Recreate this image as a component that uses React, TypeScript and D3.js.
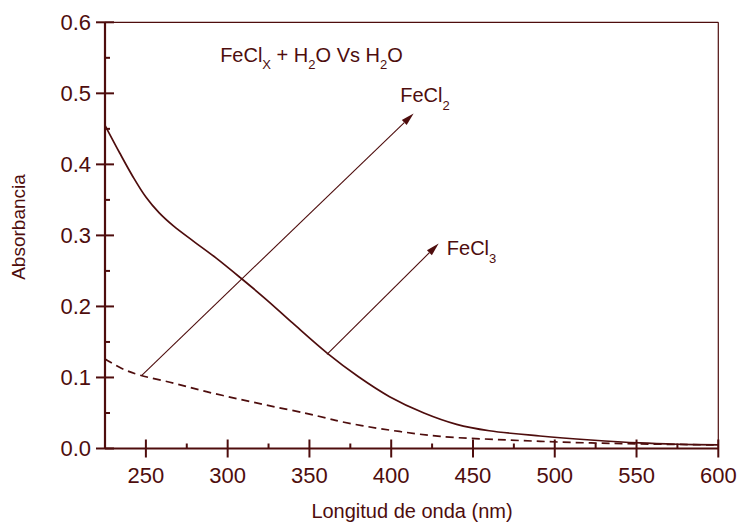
import React from "react";
import * as d3 from "d3";

const wavelengthsSolid = [225, 234, 242, 250, 258, 267, 279, 293, 308, 324, 340, 361, 380, 399, 420, 440, 460, 491, 522, 552, 575, 600];
const absSolid = [0.455, 0.416, 0.383, 0.354, 0.332, 0.313, 0.292, 0.268, 0.240, 0.209, 0.176, 0.134, 0.101, 0.073, 0.050, 0.034, 0.025, 0.0176, 0.012, 0.0078, 0.006, 0.005];

const wavelengthsDashed = [225, 235, 246, 267, 287, 308, 328, 348, 361, 369, 385, 405, 430, 471, 511, 552, 600];
const absDashed = [0.126, 0.113, 0.1035, 0.092, 0.080, 0.069, 0.059, 0.0495, 0.0425, 0.038, 0.031, 0.024, 0.017, 0.012, 0.0085, 0.0065, 0.005];

const xTicks = [250, 300, 350, 400, 450, 500, 550, 600];
const xMinorTicks = [275, 325, 375, 425, 475, 525, 575];
const yTicks = [0.0, 0.1, 0.2, 0.3, 0.4, 0.5, 0.6];
const yMinorTicks = [0.05, 0.15, 0.25, 0.35, 0.45, 0.55];

// arrows: [x1, y1, x2, y2] in data units
const arrowFeCl2 = [247.5, 0.103, 413.7, 0.4715];
const arrowFeCl3 = [360.7, 0.1325, 429, 0.2886];
const labelFeCl2 = [405.5, 0.488];
const labelFeCl3 = [434, 0.272];
const titlePos = [295.4, 0.5436];

const C = "#4e0d0d";
const FONT = "Liberation Sans, Arial, sans-serif";

export default function App() {
  const x = d3.scaleLinear().domain([225, 600]).range([105, 718.3]);
  const y = d3.scaleLinear().domain([0, 0.6]).range([448.5, 22.3]);

  const line = d3
    .line<[number, number]>()
    .x((d) => x(d[0]))
    .y((d) => y(d[1]))
    .curve(d3.curveCatmullRom.alpha(0.5));

  const solid = line(wavelengthsSolid.map((w, i) => [w, absSolid[i]]));
  const dashed = line(wavelengthsDashed.map((w, i) => [w, absDashed[i]]));

  const arrow = (a: number[], key: string) => {
    const x1 = x(a[0]), y1 = y(a[1]), x2 = x(a[2]), y2 = y(a[3]);
    const ang = Math.atan2(y2 - y1, x2 - x1);
    const L = 13, W = 3.5;
    const bx = x2 - L * Math.cos(ang), by = y2 - L * Math.sin(ang);
    const px = -Math.sin(ang) * W, py = Math.cos(ang) * W;
    return (
      <g key={key}>
        <line x1={x1} y1={y1} x2={bx} y2={by} stroke={C} strokeWidth={1.1} />
        <path d={`M${x2},${y2}L${bx + px},${by + py}L${bx - px},${by - py}Z`} fill={C} />
      </g>
    );
  };

  const x0 = x(225), x1 = x(600), y0 = y(0), yTop = y(0.6);

  return (
    <svg width={740} height={522} style={{ position: "absolute", left: 0, top: 0, background: "#fff" }} fontFamily={FONT}>
      {/* frame top/right */}
      <line x1={x0} y1={yTop} x2={x1} y2={yTop} stroke={C} strokeWidth={1.2} />
      <line x1={x1} y1={yTop} x2={x1} y2={y0} stroke={C} strokeWidth={1.2} />

      {/* curves */}
      <path d={solid || ""} fill="none" stroke={C} strokeWidth={1.7} />
      <path d={dashed || ""} fill="none" stroke={C} strokeWidth={1.7} strokeDasharray="8,5" />

      {/* axes */}
      <line x1={x0} y1={yTop} x2={x0} y2={y0} stroke={C} strokeWidth={2.2} />
      <line x1={x0} y1={y0} x2={x1} y2={y0} stroke={C} strokeWidth={2.2} />

      {yTicks.map((t) => (
        <g key={"yt" + t}>
          <line x1={x0 - 9} x2={x0 + 9} y1={y(t)} y2={y(t)} stroke={C} strokeWidth={2} />
          <text x={x0 - 14} y={y(t)} dy="0.36em" textAnchor="end" fontSize={22} fill={C}>
            {t.toFixed(1)}
          </text>
        </g>
      ))}
      {yMinorTicks.map((t) => (
        <line key={"ym" + t} x1={x0} x2={x0 + 5} y1={y(t)} y2={y(t)} stroke={C} strokeWidth={2} />
      ))}
      {xTicks.map((t) => (
        <g key={"xt" + t}>
          <line x1={x(t)} x2={x(t)} y1={y0 - 9} y2={y0 + 9} stroke={C} strokeWidth={2} />
          <text x={x(t)} y={y0 + 34} textAnchor="middle" fontSize={22} fill={C}>
            {t}
          </text>
        </g>
      ))}
      {xMinorTicks.map((t) => (
        <line key={"xm" + t} x1={x(t)} x2={x(t)} y1={y0} y2={y0 - 5} stroke={C} strokeWidth={2} />
      ))}

      {/* axis titles */}
      <text x={412} y={518} textAnchor="middle" fontSize={20} fill={C}>
        Longitud de onda (nm)
      </text>
      <text transform={`translate(25,${227}) rotate(-90)`} textAnchor="middle" fontSize={19} fill={C}>
        Absorbancia
      </text>

      {/* annotations */}
      {arrow(arrowFeCl2, "a2")}
      {arrow(arrowFeCl3, "a3")}

      <text x={x(titlePos[0])} y={y(titlePos[1])} fontSize={20} fill={C}>
        FeCl
        <tspan fontSize={13} dy={7}>X</tspan>
        <tspan fontSize={20} dy={-7}> + H</tspan>
        <tspan fontSize={13} dy={7}>2</tspan>
        <tspan fontSize={20} dy={-7}>O Vs H</tspan>
        <tspan fontSize={13} dy={7}>2</tspan>
        <tspan fontSize={20} dy={-7}>O</tspan>
      </text>
      <text x={x(labelFeCl2[0])} y={y(labelFeCl2[1])} fontSize={20} fill={C}>
        FeCl
        <tspan fontSize={13} dy={8}>2</tspan>
      </text>
      <text x={x(labelFeCl3[0])} y={y(labelFeCl3[1])} fontSize={20} fill={C}>
        FeCl
        <tspan fontSize={13} dy={8}>3</tspan>
      </text>
    </svg>
  );
}
